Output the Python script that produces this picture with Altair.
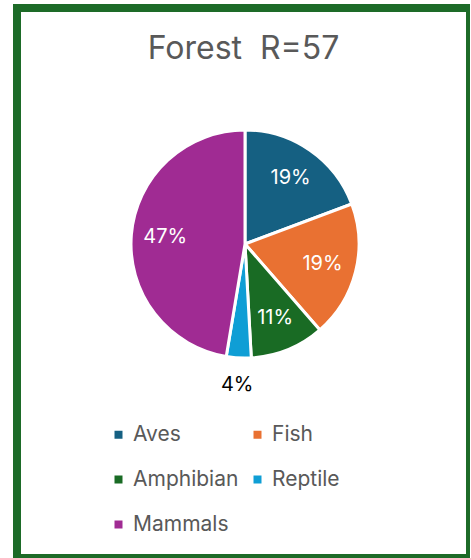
import altair as alt
import pandas as pd

groups = ["Aves", "Fish", "Amphibian", "Reptile", "Mammals"]
counts = [11, 11, 6, 2, 27]
colors = ["#156082", "#E97132", "#196B24", "#0F9ED5", "#A02B93"]
title_text = "Forest\u00a0 R=57"

df = pd.DataFrame({"group": groups, "count": counts, "idx": list(range(len(groups)))})

FONT = "Inter"

base = alt.Chart(df).transform_joinaggregate(
    total="sum(count)"
).transform_calculate(
    pct="datum.count / datum.total"
)

theta = alt.Theta("count:Q", stack=True)
order = alt.Order("idx:Q", sort="ascending")
color = alt.Color(
    "group:N",
    scale=alt.Scale(domain=groups, range=colors),
    sort=groups,
    legend=alt.Legend(
        title=None,
        orient="none",
        legendX=91,
        legendY=416,
        columns=2,
        direction="horizontal",
        columnPadding=8,
        rowPadding=23,
        symbolType="square",
        symbolSize=64,
        symbolStrokeWidth=0,
        labelFontSize=21,
        labelFont=FONT,
        labelColor="#595959",
        labelOffset=4,
    ),
)

cx = 228
cy = 236

arcs = base.mark_arc(outerRadius=114, stroke="white", strokeWidth=3).encode(
    theta=theta,
    order=order,
    color=color,
    x=alt.value(cx),
    y=alt.value(cy),
)

inner_labels = base.mark_text(
    radius=80, fontSize=20, font=FONT, color="white"
).encode(
    theta=theta,
    order=order,
    text=alt.Text("pct:Q", format=".0%"),
    opacity=alt.condition(alt.datum.group != "Reptile", alt.value(1), alt.value(0)),
    x=alt.value(cx),
    y=alt.value(cy),
)

outer_labels = base.mark_text(
    radius=141, fontSize=20, font=FONT, color="black"
).encode(
    theta=theta,
    order=order,
    text=alt.Text("pct:Q", format=".0%"),
    opacity=alt.condition(alt.datum.group == "Reptile", alt.value(1), alt.value(0)),
    x=alt.value(cx),
    y=alt.value(cy),
)

chart = alt.layer(arcs, inner_labels, outer_labels).properties(
    width=453,
    height=550,
    background="white",
    autosize=alt.AutoSizeParams(type="none"),
    padding={"left": 17, "top": 8, "right": 0, "bottom": 0},
    title=alt.TitleParams(
        title_text,
        fontSize=32,
        font=FONT,
        fontWeight="normal",
        color="#595959",
        anchor="middle",
        baseline="alphabetic",
        offset=-83,
    ),
).configure_view(
    stroke="#1D6B28",
    strokeWidth=8,
)

chart.save("out.html", embed_options={"renderer": "svg", "actions": False})
